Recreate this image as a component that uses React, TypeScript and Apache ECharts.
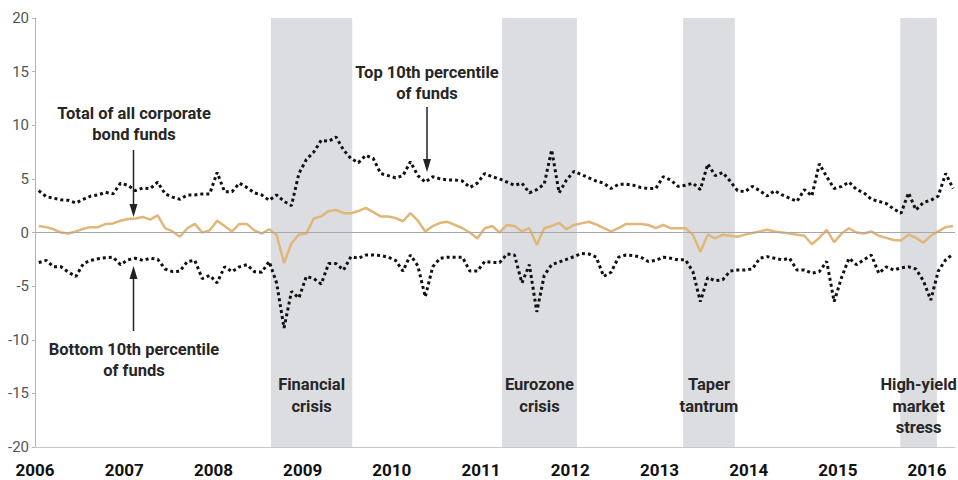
import React, { useEffect, useRef } from 'react';
import * as echarts from 'echarts';

// Monthly data, Jan 2006 – Apr 2016 (plotted at mid-month)
const START_YEAR = 2006;
const X_MIN = 2006;
const X_MAX = 2016.313;

const top10: number[] = [
  3.9, 3.35, 3.2, 3.05, 3.0, 2.75, 3.1, 3.4, 3.5, 3.75, 3.6, 4.6,
  4.4, 3.9, 4.15, 4.1, 4.7, 3.6, 3.3, 3.1, 3.5, 3.5, 3.6, 3.6,
  5.6, 3.8, 3.8, 4.6, 4.2, 3.7, 3.5, 3.0, 3.5, 2.9, 2.5, 5.5,
  6.8, 7.5, 8.6, 8.5, 8.9, 7.7, 6.9, 6.5, 7.2, 6.9, 5.5, 5.3,
  5.1, 5.3, 6.6, 5.3, 4.7, 5.2, 5.0, 4.9, 4.9, 4.8, 4.2, 4.6,
  5.5, 5.2, 5.0, 4.7, 4.4, 4.6, 3.7, 4.0, 4.5, 7.7, 3.7, 4.9,
  5.7, 5.4, 5.1, 4.8, 4.6, 4.1, 4.5, 4.5, 4.4, 4.2, 4.1, 4.1,
  5.2, 4.9, 4.3, 4.4, 4.6, 4.0, 6.4, 5.3, 5.6, 4.8, 3.9, 3.8,
  4.3, 3.9, 3.4, 3.9, 3.5, 3.2, 2.9, 4.0, 3.4, 6.4, 5.2, 4.1,
  4.3, 4.7, 4.0, 3.7, 3.1, 2.9, 2.7, 2.2, 1.8, 3.7, 2.1, 2.8,
  3.0, 3.4, 5.5, 4.1,
];

const total: number[] = [
  0.6, 0.5, 0.3, 0.0, -0.1, 0.1, 0.35, 0.5, 0.5, 0.8, 0.85, 1.1,
  1.25, 1.3, 1.45, 1.2, 1.6, 0.4, 0.1, -0.4, 0.4, 0.8, 0.0, 0.2,
  1.1, 0.6, 0.1, 0.8, 0.8, 0.2, -0.1, 0.3, -0.2, -2.85, -1.0, -0.2,
  -0.1, 1.3, 1.5, 2.0, 2.1, 1.8, 1.8, 2.0, 2.3, 1.9, 1.5, 1.5,
  1.35, 1.05, 1.8, 1.1, 0.1, 0.6, 0.9, 1.0, 0.7, 0.4, 0.0, -0.55,
  0.4, 0.6, 0.0, 0.7, 0.6, 0.1, 0.4, -1.15, 0.4, 0.6, 0.9, 0.3,
  0.7, 0.85, 1.0, 0.75, 0.4, 0.1, 0.4, 0.8, 0.8, 0.8, 0.7, 0.4,
  0.7, 0.4, 0.4, 0.4, -0.2, -1.8, -0.2, -0.55, -0.2, -0.3, -0.4, -0.2,
  -0.05, 0.1, 0.25, 0.1, 0.0, -0.1, -0.2, -0.3, -1.1, -0.5, 0.25, -0.9,
  -0.1, 0.4, 0.0, -0.1, 0.1, -0.3, -0.5, -0.7, -0.75, -0.2, -0.5, -0.95,
  -0.3, 0.1, 0.5, 0.6,
];

const bottom10: number[] = [
  -2.8, -2.6, -3.2, -3.2, -3.7, -4.1, -2.9, -2.6, -2.45, -2.35, -2.3, -3.0,
  -2.55, -2.4, -2.6, -2.4, -2.5, -3.4, -3.65, -3.6, -2.7, -2.6, -4.3, -4.0,
  -4.7, -3.2, -3.65, -3.2, -3.0, -3.65, -3.7, -2.7, -4.7, -8.9, -5.5, -6.1,
  -4.1, -4.3, -4.8, -2.9, -2.9, -3.5, -2.25, -2.4, -2.1, -2.1, -2.15, -2.3,
  -2.6, -3.6, -2.1, -3.1, -6.0, -3.2, -2.4, -2.3, -2.3, -2.3, -3.6, -3.6,
  -2.7, -2.8, -2.8, -2.0, -2.1, -4.7, -3.0, -7.4, -4.0, -3.0, -2.75, -2.5,
  -2.25, -1.95, -2.0, -2.3, -4.1, -3.7, -2.3, -2.1, -2.15, -2.3, -2.7, -2.6,
  -2.3, -2.4, -2.55, -2.55, -3.65, -6.45, -4.2, -4.5, -4.4, -3.6, -3.5, -3.5,
  -3.4, -2.4, -2.25, -2.4, -2.55, -2.4, -3.5, -3.5, -3.8, -3.65, -2.7, -6.45,
  -4.2, -2.4, -3.0, -2.55, -2.1, -3.8, -3.2, -3.5, -3.3, -3.2, -3.4, -4.5,
  -6.3, -3.6, -2.55, -2.0,
];

const eventNames = ['Financial\ncrisis', 'Eurozone\ncrisis', 'Taper\ntantrum', 'High-yield\nmarket\nstress'];
const eventStart = [2008.645, 2011.235, 2013.265, 2015.7];
const eventEnd = [2009.556, 2012.075, 2013.845, 2016.11];

const FONT = 'Roboto, "Liberation Sans", sans-serif';
const TEXT_COLOR = '#262626';
const ANN_FONT = `bold 16.5px ${FONT}`;

const toPoints = (arr: number[]) => arr.map((v, i) => [START_YEAR + (i + 0.5) / 12, v]);

function arrow(x: number, yStart: number, yTip: number) {
  const dir = yTip > yStart ? 1 : -1;
  const headLen = 13;
  return {
    type: 'group',
    silent: true,
    z: 100,
    children: [
      {
        type: 'line',
        z: 100,
        shape: { x1: x, y1: yStart, x2: x, y2: yTip - dir * (headLen - 2) },
        style: { stroke: '#222', lineWidth: 1.5 },
      },
      {
        type: 'polygon',
        z: 100,
        shape: { points: [[x - 4, yTip - dir * headLen], [x + 4, yTip - dir * headLen], [x, yTip]] },
        style: { fill: '#222' },
      },
    ],
  };
}

function annText(text: string, x: number, y: number) {
  return {
    type: 'text',
    silent: true,
    z: 100,
    x,
    y,
    style: {
      text,
      fill: TEXT_COLOR,
      font: ANN_FONT,
      align: 'center',
      verticalAlign: 'middle',
      lineHeight: 21,
    },
  };
}

export default function App() {
  const ref = useRef<HTMLDivElement>(null);

  useEffect(() => {
    if (!ref.current) return;
    const chart = echarts.init(ref.current, undefined, { renderer: 'svg' });

    const option: any = {
      animation: false,
      grid: { left: 35, right: 0, top: 18, bottom: 33, containLabel: false },
      xAxis: {
        type: 'value',
        min: X_MIN,
        max: X_MAX,
        interval: 1,
        axisLine: { show: true, onZero: false, lineStyle: { color: '#c8c8c8', width: 1 } },
        axisTick: { show: false },
        splitLine: { show: false },
        axisLabel: {
          formatter: (v: number) => (Math.abs(v - Math.round(v)) < 1e-6 ? String(Math.round(v)) : ''),
          color: '#111',
          fontWeight: 'bold',
          fontSize: 17,
          fontFamily: FONT,
          margin: 14,
          showMinLabel: true,
        },
      },
      yAxis: {
        type: 'value',
        min: -20,
        max: 20,
        interval: 5,
        axisLine: { show: true, lineStyle: { color: '#b5b5b5', width: 1 } },
        axisTick: { show: true, length: 3, lineStyle: { color: '#b5b5b5' } },
        splitLine: { show: false },
        axisLabel: { color: '#555', fontSize: 15, fontFamily: FONT, margin: 6 },
      },
      series: [
        {
          type: 'line',
          data: [],
          z: 1,
          silent: true,
          markArea: {
            silent: true,
            itemStyle: { color: '#dcdde0' },
            label: { show: false },
            data: eventStart.map((s, k) => [{ xAxis: s, yAxis: 20 }, { xAxis: eventEnd[k], yAxis: -20 }]),
          },
          markLine: {
            silent: true,
            symbol: 'none',
            label: { show: false },
            lineStyle: { color: '#a8a8a8', width: 1, type: 'solid' },
            data: [{ yAxis: 0 }],
          },
        },
        {
          name: 'Top 10th percentile of funds',
          type: 'line',
          data: toPoints(top10),
          showSymbol: false,
          z: 3,
          lineStyle: { color: '#111', width: 3, type: [3, 3], cap: 'butt' },
        },
        {
          name: 'Total of all corporate bond funds',
          type: 'line',
          data: toPoints(total),
          showSymbol: false,
          z: 4,
          lineStyle: { color: '#e0b778', width: 2.5 },
        },
        {
          name: 'Bottom 10th percentile of funds',
          type: 'line',
          data: toPoints(bottom10),
          showSymbol: false,
          z: 3,
          lineStyle: { color: '#111', width: 3, type: [3, 3], cap: 'butt' },
        },
      ],
    };
    chart.setOption(option);

    const eventLabels = eventNames.map((name, k) => {
      const cx = chart.convertToPixel({ xAxisIndex: 0 }, (eventStart[k] + eventEnd[k]) / 2) as number;
      return {
        type: 'text',
        silent: true,
        z: 100,
        x: cx,
        y: 374,
        style: {
          text: name,
          fill: TEXT_COLOR,
          font: ANN_FONT,
          align: 'center',
          verticalAlign: 'top',
          lineHeight: 21.5,
        },
      };
    });

    chart.setOption({
      graphic: [
        annText('Total of all corporate\nbond funds', 134, 124),
        arrow(133.5, 150, 217),
        annText('Top 10th percentile\nof funds', 427, 83),
        arrow(427, 107, 172),
        annText('Bottom 10th percentile\nof funds', 134, 360),
        arrow(133.5, 331, 266),
        ...eventLabels,
      ],
    });

    return () => chart.dispose();
  }, []);

  return (
    <div
      ref={ref}
      style={{ position: 'fixed', left: 0, top: 0, width: 958, height: 480, background: '#fff' }}
    />
  );
}
